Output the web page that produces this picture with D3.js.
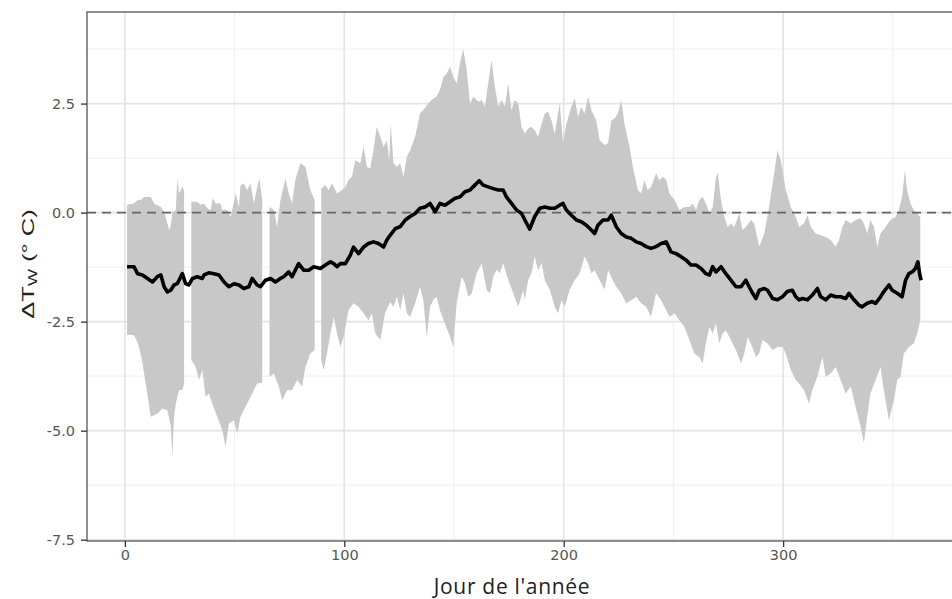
<!DOCTYPE html>
<html>
<head>
<meta charset="utf-8">
<script src="https://cdn.jsdelivr.net/npm/d3@7"></script>
<style>
  body { margin: 0; background: #fff; }
  svg { display: block; }
</style>
</head>
<body>
<svg id="chart" width="952" height="599"></svg>
<script>
// ticks
const xTicks = [0, 100, 200, 300]
const xMinor = [50, 150, 250, 350]
const yTicks = [-7.5, -5, -2.5, 0, 2.5]
const yMinor = [-6.25, -3.75, -1.25, 1.25, 3.75]

// ribbon is broken where days are missing
const segments = [[1, 27], [30.3, 62.6], [65.9, 86.5], [89.5, 362.5]]

// [day, value]
const upper = [
  [1,0.18],[4,0.21],[6,0.29],[7.3,0.29],[8.8,0.36],[11.8,0.36],[13.3,0.21],[16.4,0.13],[17.9,0.02],[20.2,-0.4],[20.9,-0.3],[21.7,0.02],[23.2,0.05],[23.9,0.78],[24.7,0.44],[26.2,0.59],[27,0.5],
  [30.3,0.25],[33,0.25],[34.5,0.18],[36,0.21],[37.6,0.1],[39.1,0.06],[40,0.33],[41.4,0.21],[43.6,0.21],[44.4,0.06],[46.7,0.06],[48.2,-0.1],[50.5,0.44],[52,0.13],[52.7,0.63],[54.2,0.67],[55.8,0.52],[57.3,0.67],[58.8,0.21],[60.3,0.59],[61.3,0.78],[62.6,0.3],
  [65.9,0.13],[67.9,0.06],[69.4,-0.33],[70.9,0.29],[73.2,0.78],[74.7,0.44],[76.2,0.21],[77.7,0.75],[80,1.13],[82.3,1.05],[84.5,0.52],[86.5,0.29],
  [89.5,0.55],[91.4,0.63],[92.9,0.52],[94.4,0.67],[96.7,0.44],[99,0.52],[100.5,0.59],[101.9,0.75],[103.5,0.82],[105,1.2],[107.3,1.13],[108.8,1.51],[110.3,1.05],[111.8,1.01],[113.3,1.43],[114.8,1.97],[116.4,1.74],[117.9,1.51],[119.4,1.66],[120.5,1.2],[121.2,2.05],[122.4,1.13],
  [124,1.05],[125.5,1.13],[127,0.82],[128.5,1.28],[130,1.43],[132.3,1.74],[134.5,2.27],[136,2.35],[138.3,2.5],[139.8,2.58],[142.1,2.66],[143.6,2.81],[145.2,3.11],[146.7,3.19],[148.2,3.35],[149.7,3.11],[151.2,2.96],[152.7,3.42],[154.2,3.76],[155.8,3.27],[157.3,2.5],[158.8,2.66],[161.1,2.54],[162.6,2.58],[164.1,2.43],[165.6,2.96],[167.1,3.5],[168.6,2.89],[170.2,2.43],[171.7,2.58],[173.2,2.43],[174.7,2.96],[176.2,2.35],[177.7,2.58],[179.3,2.5],[180.8,1.97],[182.3,1.81],
  [183.8,1.93],[185.3,1.97],[186.8,1.89],[188.3,1.74],[189.9,2.04],[191.4,2.27],[192.9,2.31],[194.4,2.12],[195.9,1.81],[197.4,2.27],[198.2,2.5],[199.7,1.59],[201.2,2.04],[203.5,2.43],[205,2.62],[206.5,2.2],[208,2.43],[209.5,2.27],[211.1,2.66],[212.6,2.35],[214.8,2.12],[216.4,1.66],[218.6,1.55],[220.2,1.59],[221.7,2.12],[223.2,2.16],[224.7,2.27],[226.2,2.58],[227.7,2.04],[230,1.51],[231.5,1.05],[233.8,0.52],[235.3,0.44],[236.8,0.74],[238.3,0.52],[239.8,0.59],[242.1,0.9],[243.6,0.74],
  [245.2,0.82],[246.7,0.75],[248.2,0.44],[250.5,0.29],[252.7,0.06],[255,0.13],[257.3,0.13],[258.8,0.21],[260.3,0.06],[261.8,0.29],[263.3,0.36],[264.8,0.21],[266.4,-0.02],[267.9,0.13],[269.4,0.82],[270.2,0.9],[271.7,0.29],[273.2,-0.1],[274.7,-0.33],[276.2,-0.25],[277.7,-0.33],[280,-0.02],[281.5,-0.4],[283,-0.33],[285.3,-0.17],[286.8,-0.25],[289.1,-0.78],[291.4,-0.48],[293.6,0.13],[295.9,0.9],[297.4,1.43],[298.9,1.2],[301.2,0.52],[303.5,0.13],[305.8,-0.1],
  [307.3,-0.33],[309.5,-0.25],[311.1,-0.06],[312.6,-0.33],[314.8,-0.48],[317.1,-0.52],[319.4,-0.56],[321.7,-0.63],[323.9,-0.78],[325.5,-0.63],[327,-0.33],[328.5,-0.17],[330.8,-0.25],[333,-0.17],[335.3,-0.13],[336.8,-0.25],[338.3,-0.48],[339.8,-0.17],[341.4,-0.33],[342.9,-0.78],[344.4,-0.48],[346.7,-0.33],[348.9,-0.17],[351.2,-0.1],[352.7,0.06],[354.2,0.36],[355.5,0.97],[356.5,0.52],[358,0.21],[359.5,0.06],[361.1,-0.02],[362.5,-0.1]
]

const lower = [
  [1,-2.8],[4.2,-2.81],[6,-3.0],[7.5,-3.31],[8.3,-3.54],[9.5,-3.92],[11.8,-4.68],[14.8,-4.61],[17.1,-4.49],[19.4,-4.53],[20.9,-4.9],[21.7,-5.6],[22.4,-4.7],[23.2,-4.38],[24.7,-4.07],[26.2,-4.07],[27,-3.92],
  [30.3,-3.38],[32.3,-3.54],[33.8,-3.84],[35.3,-3.61],[36.8,-4.22],[38.3,-4.15],[39.9,-4.38],[42.1,-4.68],[44.4,-4.99],[45.9,-5.37],[47.4,-4.84],[49.7,-4.76],[51.2,-5.07],[52.7,-4.68],[55,-4.45],[57.3,-4.22],[60.3,-3.92],[62.6,-3.9],
  [65.9,-3.77],[67.9,-3.69],[70.2,-3.99],[71.7,-4.3],[74,-4.07],[76.2,-4.07],[78.5,-3.84],[80.8,-3.99],[82.3,-3.54],[84.5,-3.23],[86.5,-3.15],
  [89.5,-3.38],[90.6,-3.61],[92.1,-3.23],[93.7,-2.77],[95.2,-2.39],[96.7,-2.77],[98.2,-3.08],[99.7,-2.85],[101.9,-2.24],[104.2,-2.08],[106.5,-2.16],[108.8,-2.31],[111,-2.47],[112.6,-2.31],[114.1,-2.77],[116.4,-2.92],[118.6,-2.31],[120.9,-2.05],[122.4,-2.16],
  [124,-1.93],[125.5,-2.24],[127,-1.85],[128.5,-2.31],[130,-2.39],[132.3,-2.08],[134.5,-1.7],[136,-2.0],[137.6,-2.85],[139.1,-2.16],[140.6,-2.0],[142.1,-1.93],[143.6,-2.24],[145.9,-2.54],[148.2,-2.85],[149.7,-3.08],[151.2,-2.08],[153.5,-1.47],[155,-1.62],[156.5,-1.93],[158.1,-1.85],[160.3,-1.39],[162.6,-1.16],[164.9,-1.78],[166.4,-1.85],[167.9,-1.47],[169.4,-1.31],[170.9,-1.39],[172.4,-1.16],[174.7,-1.54],[177,-1.85],[179.3,-2.16],[181.5,-1.78],[182.3,-2.0],
  [183.8,-1.55],[185.3,-1.39],[186.8,-1.01],[188.3,-1.32],[189.9,-1.16],[191.4,-1.55],[193.7,-1.77],[195.9,-2.16],[197.4,-2.31],[199,-2.01],[200.5,-2.16],[202.7,-1.77],[205,-1.55],[207.3,-1.39],[209.5,-1.01],[211.1,-1.16],[212.6,-1.39],[214.1,-1.32],[216.4,-1.55],[218.6,-1.77],[220.2,-1.32],[222.4,-1.55],[224,-1.7],[226.2,-1.85],[228.5,-2.08],[230.8,-2.01],[233,-1.93],[235.3,-2.08],[237.6,-2.16],[239.8,-2.39],[242.1,-1.85],[244.4,-2.01],
  [245.9,-2.16],[248.2,-2.39],[250.5,-2.31],[252.7,-2.47],[255,-2.62],[257.3,-2.92],[259.5,-3.23],[261.8,-3.31],[263.3,-3.46],[264.8,-3.0],[266.4,-2.62],[267.9,-2.77],[269.4,-2.54],[270.9,-3.0],[272.4,-2.77],[273.9,-2.7],[276.2,-2.92],[278.5,-3.15],[280.8,-3.46],[282.3,-3.23],[283.8,-2.85],[285.3,-3.0],[287.6,-3.31],[289.1,-3.23],[290.6,-2.92],[292.9,-3.0],[295.2,-3.15],[297.4,-3.08],[299.7,-3.08],[301.2,-3.23],[303.5,-3.61],[305.8,-3.84],
  [307.3,-3.92],[309.5,-4.07],[311.8,-4.38],[313.3,-4.07],[315.6,-3.77],[317.9,-3.31],[319.4,-3.77],[321.7,-3.69],[323.9,-3.54],[326.2,-3.84],[328.5,-4.15],[330.8,-3.99],[333,-4.45],[335.3,-4.91],[336.8,-5.29],[338.3,-4.68],[339.8,-4.15],[342.1,-3.84],[344.4,-3.54],[345.9,-4.07],[348.2,-4.76],[350.5,-4.3],[352,-3.84],[353.5,-3.77],[355,-3.23],[357.3,-3.08],[359.5,-3.0],[361.1,-2.77],[362.5,-2.47]
]

const mean = [
  [1,-1.24],[4.2,-1.24],[5.8,-1.4],[8,-1.43],[10.3,-1.51],[12.6,-1.59],[14.8,-1.47],[16.4,-1.43],[17.9,-1.7],[19.4,-1.82],[20.9,-1.78],[22.4,-1.66],[23.9,-1.63],[26.2,-1.4],[27.7,-1.63],[29.2,-1.66],[30.8,-1.51],[33,-1.47],[35.3,-1.51],[36.1,-1.43],[38.3,-1.38],[40.6,-1.4],[42.9,-1.43],[45.2,-1.59],[47.4,-1.7],[49.7,-1.63],[52,-1.66],[54.2,-1.74],[56.5,-1.7],[58,-1.51],[60.3,-1.66],
  [61.8,-1.7],[64.1,-1.55],[66.4,-1.51],[68.6,-1.59],[70.9,-1.51],[72.4,-1.47],[74.7,-1.36],[76.2,-1.47],[77.7,-1.32],[79.2,-1.17],[81.5,-1.32],[83.8,-1.32],[86.1,-1.24],[89.1,-1.28],[91.4,-1.2],[93.7,-1.13],[95.2,-1.17],[96.7,-1.24],[98.2,-1.17],[100.5,-1.17],[102.7,-0.98],[104.2,-0.79],[106.5,-0.94],[108.8,-0.79],[111,-0.71],[113.3,-0.67],[115.6,-0.71],[117.9,-0.79],[119.4,-0.63],[120.9,-0.52],
  [123.2,-0.37],[125.5,-0.32],[127.8,-0.17],[130,-0.09],[132.3,-0.02],[134.5,0.1],[136.8,0.13],[139.1,0.21],[141.4,0.02],[143.6,0.21],[145.9,0.17],[148.2,0.25],[150.5,0.33],[152.7,0.36],[155,0.48],[157.3,0.52],[159.5,0.63],[161.5,0.73],[163.3,0.63],[165.6,0.59],[167.9,0.55],[170.2,0.52],[172.4,0.52],[173.9,0.36],[176.2,0.21],[178.5,0.06],[180.8,-0.02],[182.3,-0.17],[184.5,-0.38],
  [186.8,-0.09],[189.1,0.1],[191.4,0.13],[193.7,0.1],[195.9,0.1],[198.2,0.17],[199.7,0.21],[201.2,0.06],[203.5,-0.06],[205.8,-0.17],[208,-0.21],[210.3,-0.29],[212.6,-0.4],[214.1,-0.48],[215.6,-0.29],[217.9,-0.17],[220.2,-0.17],[221.7,-0.06],[224,-0.33],[226.2,-0.48],[228.5,-0.56],[230.8,-0.59],[233,-0.67],[235.3,-0.71],[237.6,-0.78],[239.8,-0.82],[242.1,-0.78],[244.4,-0.71],
  [246.7,-0.67],[248.9,-0.9],[251.2,-0.94],[253.5,-1.01],[255.8,-1.09],[258,-1.2],[260.3,-1.2],[262.6,-1.28],[264.8,-1.4],[266.4,-1.43],[267.9,-1.24],[269.4,-1.36],[271.7,-1.24],[273.9,-1.4],[276.2,-1.55],[278.5,-1.7],[280.8,-1.7],[283,-1.55],[284.5,-1.7],[286.1,-1.85],[287.6,-1.97],[289.1,-1.78],[291.4,-1.74],[292.9,-1.78],[295.2,-1.97],[297.4,-2.0],[299.7,-1.93],[301.9,-1.81],[304.2,-1.78],[305.8,-1.93],
  [307.3,-2.0],[308.8,-1.97],[311.1,-2.0],[313.3,-1.89],[315.6,-1.74],[317.1,-1.93],[319.4,-2.0],[321.7,-1.89],[323.9,-1.93],[326.2,-1.93],[328.5,-1.97],[330,-1.85],[332.3,-2.0],[334.5,-2.12],[336,-2.16],[338.3,-2.08],[340.6,-2.04],[342.1,-2.08],[344.4,-1.93],[345.9,-1.81],[348.2,-1.66],[349.7,-1.78],[352,-1.85],[354.2,-1.93],[355.8,-1.55],[357.3,-1.4],[358.8,-1.36],[360.3,-1.28],[361.4,-1.13],[362.3,-1.43],[362.9,-1.55]
]

var svg = d3.select('#chart'),
  margin = {top: 12, right: -16, bottom: 58, left: 87},
  width = +svg.attr('width') - margin.left - margin.right,
  height = +svg.attr('height') - margin.top - margin.bottom

var x = d3.scaleLinear().domain([-17.25, 384.25]).range([margin.left, margin.left + width])
var y = d3.scaleLinear().domain([-7.53, 4.6]).range([margin.top + height, margin.top])

var pLeft = margin.left, pRight = margin.left + width
var pTop = margin.top, pBottom = margin.top + height

svg.append('defs').append('clipPath').attr('id', 'panel')
  .append('rect')
  .attr('x', pLeft).attr('y', pTop)
  .attr('width', width).attr('height', height)

// grid
var grid = svg.append('g').attr('clip-path', 'url(#panel)')
grid.selectAll('.ymin').data(yMinor).enter().append('line')
  .attr('x1', pLeft).attr('x2', pRight)
  .attr('y1', d => y(d)).attr('y2', d => y(d))
  .attr('stroke', '#efefef').attr('stroke-width', 1)
grid.selectAll('.xmin').data(xMinor).enter().append('line')
  .attr('y1', pTop).attr('y2', pBottom)
  .attr('x1', d => x(d)).attr('x2', d => x(d))
  .attr('stroke', '#efefef').attr('stroke-width', 1)
grid.selectAll('.ymaj').data(yTicks).enter().append('line')
  .attr('x1', pLeft).attr('x2', pRight)
  .attr('y1', d => y(d)).attr('y2', d => y(d))
  .attr('stroke', '#e4e4e4').attr('stroke-width', 1.6)
grid.selectAll('.xmaj').data(xTicks).enter().append('line')
  .attr('y1', pTop).attr('y2', pBottom)
  .attr('x1', d => x(d)).attr('x2', d => x(d))
  .attr('stroke', '#e4e4e4').attr('stroke-width', 1.6)

var plot = svg.append('g').attr('clip-path', 'url(#panel)')

// ribbon, one polygon per run of days
var edge = d3.line().x(d => x(d[0])).y(d => y(d[1]))
segments.forEach(function(s) {
  var inSeg = function(d) { return d[0] >= s[0] - 0.01 && d[0] <= s[1] + 0.01 }
  var pts = upper.filter(inSeg).concat(lower.filter(inSeg).reverse())
  plot.append('path')
    .attr('d', edge(pts) + 'Z')
    .attr('fill', '#c8c8c8')
})

// zero line
plot.append('line')
  .attr('x1', pLeft).attr('x2', pRight)
  .attr('y1', y(0)).attr('y2', y(0))
  .attr('stroke', '#666').attr('stroke-width', 1.6)
  .attr('stroke-dasharray', '9,6')

// mean
plot.append('path')
  .datum(mean)
  .attr('d', edge)
  .attr('fill', 'none')
  .attr('stroke', '#000')
  .attr('stroke-width', 3.6)
  .attr('stroke-linejoin', 'round')

// border
svg.append('rect')
  .attr('x', pLeft).attr('y', pTop)
  .attr('width', width).attr('height', height)
  .attr('fill', 'none').attr('stroke', '#555').attr('stroke-width', 1.3)

// axes
var xAxis = svg.append('g')
  .attr('transform', 'translate(0,' + pBottom + ')')
  .call(d3.axisBottom(x).tickValues(xTicks).tickSize(6).tickPadding(3).tickFormat(d => String(d)))
var yAxis = svg.append('g')
  .attr('transform', 'translate(' + pLeft + ',0)')
  .call(d3.axisLeft(y).tickValues(yTicks).tickSize(6).tickPadding(6).tickFormat(d => d.toFixed(1)))

;[xAxis, yAxis].forEach(function(a) {
  a.select('.domain').remove()
  a.selectAll('line').attr('stroke', '#333').attr('stroke-width', 1.3)
  a.selectAll('text')
    .attr('fill', '#555')
    .style('font-family', '"DejaVu Sans", sans-serif')
    .style('font-size', '14.5px')
})

// titles
svg.append('text')
  .attr('x', 512).attr('y', 594)
  .attr('text-anchor', 'middle')
  .style('font-family', '"Open Sans", sans-serif')
  .style('font-size', '21px')
  .style('letter-spacing', '0.7px')
  .attr('fill', '#222')
  .text("Jour de l'année")

var yt = svg.append('text')
  .attr('transform', 'translate(34,264) rotate(-90) scale(1.5,1)')
  .attr('text-anchor', 'middle')
  .style('font-family', '"Liberation Sans", Arial, sans-serif')
  .style('font-size', '17px')
  .attr('fill', '#222')
yt.append('tspan').text('ΔT')
yt.append('tspan').attr('font-size', '12px').attr('dy', 3).text('W')
yt.append('tspan').attr('dy', -3).text('  (° C)')
</script>
</body>
</html>
